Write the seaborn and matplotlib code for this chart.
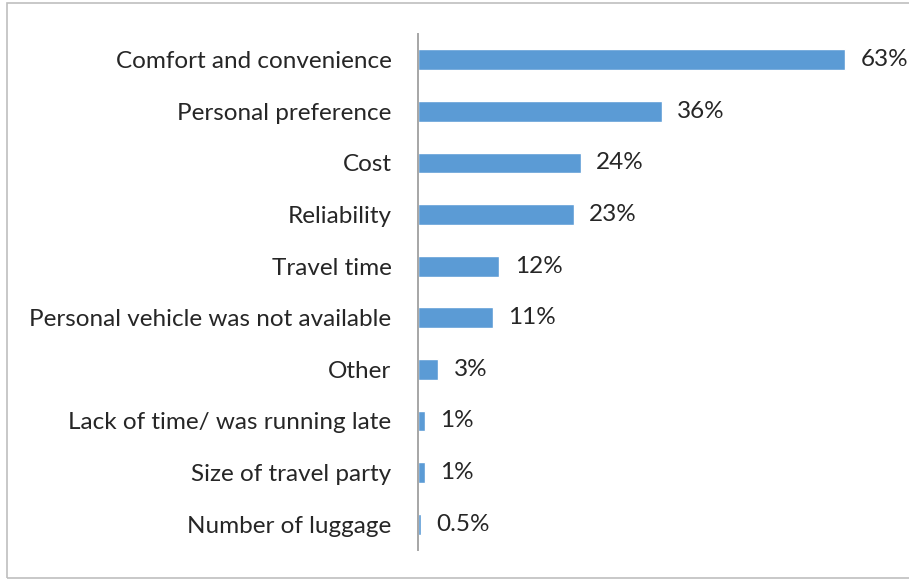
import matplotlib
matplotlib.use("Agg")
import matplotlib.pyplot as plt
from matplotlib.patches import Rectangle
import seaborn as sns
import pandas as pd
import numpy as np

reasons = [
    "Comfort and convenience",
    "Personal preference",
    "Cost",
    "Reliability",
    "Travel time",
    "Personal vehicle was not available",
    "Other",
    "Lack of time/ was running late",
    "Size of travel party",
    "Number of luggage",
]
shares = [63, 36, 24, 23, 12, 11, 3, 1, 1, 0.5]
share_labels = ["63%", "36%", "24%", "23%", "12%", "11%", "3%", "1%", "1%", "0.5%"]

df = pd.DataFrame({"reason": reasons, "share": shares})

sns.set_theme(style="white")
plt.rcParams["font.family"] = ["Lato", "DejaVu Sans"]

fig = plt.figure(figsize=(9.09, 5.8), dpi=100)
ax = fig.add_axes([418 / 909, 30 / 580, 482 / 909, 516 / 580])

sns.barplot(data=df, y="reason", x="share", orient="h", color="#5b9bd5",
            saturation=1, width=0.4, ax=ax)

ax.set_xlim(0, 482 / 6.78)
ax.set_ylim(len(reasons) - 0.5, -0.5)
ax.set_xlabel("")
ax.set_ylabel("")
ax.set_xticks([])

for s in ["top", "right", "bottom"]:
    ax.spines[s].set_visible(False)
ax.spines["left"].set_color("#a6a6a6")
ax.spines["left"].set_linewidth(1.4)

ax.tick_params(axis="y", which="major", length=0, pad=19, labelsize=17.5,
               labelcolor="#262626")
ax.set_yticks(np.arange(len(reasons) + 1) - 0.5, minor=True)
ax.tick_params(axis="y", which="minor", length=4, width=1.2, color="#a6a6a6",
               direction="out")

for i, (v, lab) in enumerate(zip(shares, share_labels)):
    ax.annotate(lab, xy=(v, i), xytext=(11, 0), textcoords="offset points",
                ha="left", va="center", fontsize=17.5, color="#262626")

# thin frame around the figure
fig.patches.append(Rectangle((7 / 909, 2 / 580), 1.2, 575 / 580,
                             transform=fig.transFigure, fill=False,
                             edgecolor="#bfbfbf", linewidth=1.2))

fig.savefig("out.png", dpi=100)
